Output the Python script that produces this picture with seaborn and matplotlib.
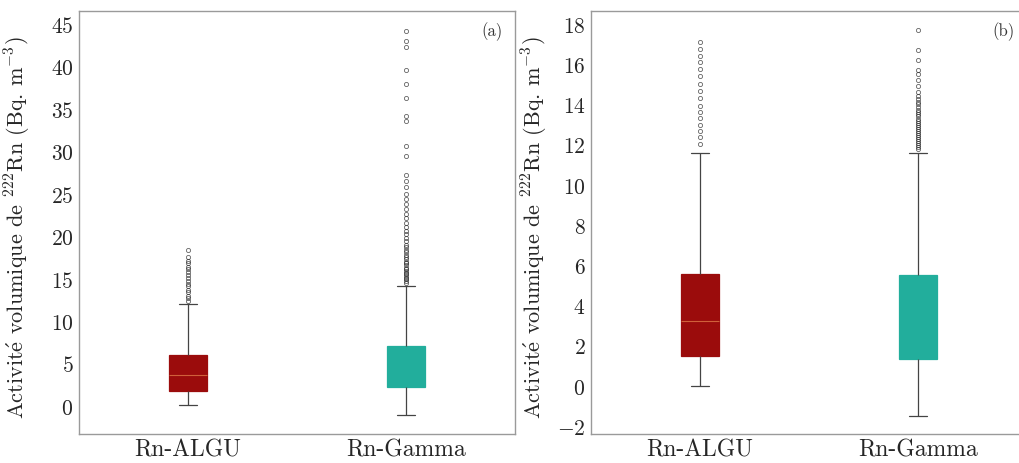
import numpy as np
import pandas as pd
import matplotlib
matplotlib.use("Agg")
import matplotlib.pyplot as plt
import matplotlib.ticker as mticker
import seaborn as sns

# ---------------- data ----------------
categories = ["Rn-ALGU", "Rn-Gamma"]
colors = ["#9b0c0c", "#22ae9c"]
median_colors = ["#d0603a", "#22ae9c"]

# panel (a): [lower whisker, Q1, median, Q3, upper whisker]
a_algu_stats = [0.1, 1.8, 3.6, 6.0, 12.0]
a_gamma_stats = [-1.1, 2.2, 4.0, 7.1, 14.1]
a_algu_out = [12.4, 12.7, 13.0, 13.4, 13.7, 14.1, 14.4, 14.7, 15.1, 15.4,
              15.8, 16.1, 16.4, 16.8, 17.1, 17.5, 18.4]
a_gamma_out = [14.5, 14.7, 14.9, 15.1, 15.3, 15.5, 15.7, 15.9, 16.1, 16.3,
               16.6, 16.8, 17.0, 17.3, 17.5, 17.8, 18.1, 18.4, 18.7, 19.0,
               19.4, 19.8, 20.2, 20.6, 21.1, 21.6, 22.1, 22.6, 23.2, 23.8,
               24.4, 25.0, 25.8, 26.5, 27.2, 29.4, 30.6, 33.6, 34.1, 36.2,
               37.9, 39.6, 42.3, 43.0, 44.1]

# panel (b)
b_algu_stats = [0.0, 1.5, 3.2, 5.57, 11.6]
b_gamma_stats = [-1.5, 1.35, 3.2, 5.5, 11.6]
b_algu_out = [12.04, 12.39, 12.69, 12.99, 13.33, 13.63, 13.93, 14.33, 14.68,
              15.03, 15.42, 15.77, 16.12, 16.42, 16.77, 17.11]
b_gamma_out = [11.8, 11.9, 12.0, 12.1, 12.2, 12.3, 12.4, 12.5, 12.6, 12.7,
               12.8, 12.9, 13.0, 13.1, 13.2, 13.3, 13.4, 13.5, 13.6, 13.7,
               13.85, 14.0, 14.1, 14.25, 14.4, 14.6, 14.9, 15.2, 15.5, 15.7,
               16.2, 16.7, 17.7]

ylims = [(-3.3, 46.5), (-2.4, 18.65)]
ytick_steps = [5, 2]
ylabel = r"Activit$\mathrm{\acute{e}}$ volumique de $^{222}$Rn (Bq. m$^{-3}$)"


def sample_from_stats(stats, outliers, k=100):
    lo, q1, med, q3, hi = stats
    return [lo] + [q1] * k + [med] * k + [q3] * k + [hi] + list(outliers)


def frame(s1, o1, s2, o2):
    v1 = sample_from_stats(s1, o1)
    v2 = sample_from_stats(s2, o2)
    return pd.DataFrame({
        "source": [categories[0]] * len(v1) + [categories[1]] * len(v2),
        "value": v1 + v2,
    })


df_a = frame(a_algu_stats, a_algu_out, a_gamma_stats, a_gamma_out)
df_b = frame(b_algu_stats, b_algu_out, b_gamma_stats, b_gamma_out)

# ---------------- style ----------------
sns.set_theme(style="white")
plt.rcParams["font.family"] = ["cmr10", "DejaVu Serif"]
plt.rcParams["mathtext.fontset"] = "cm"
plt.rcParams["axes.formatter.use_mathtext"] = True
plt.rcParams["axes.unicode_minus"] = True

fig = plt.figure(figsize=(10.2, 4.64), dpi=100)
H = 464.0
W = 1020.0
ax_a = fig.add_axes([79 / W, 1 - 435 / H, 436 / W, 423 / H])
ax_b = fig.add_axes([591 / W, 1 - 435 / H, 436 / W, 423 / H])

for ax, df, ylim, step, tag, lab_x in [(ax_a, df_a, ylims[0], ytick_steps[0], "(a)", -0.105),
                                       (ax_b, df_b, ylims[1], ytick_steps[1], "(b)", -0.094)]:
    sns.boxplot(data=df, x="source", y="value", hue="source",
                palette=colors, width=0.17, ax=ax, legend=False,
                linecolor="#444444", linewidth=0.9, saturation=1,
                fliersize=3.0,
                flierprops=dict(marker="o", markerfacecolor="none",
                                markeredgecolor="#222222",
                                markeredgewidth=0.6, alpha=0.7))
    for cont, col, mcol in zip(ax.containers, colors, median_colors):
        for b in cont.boxes:
            b.set_edgecolor(col)
        for m in cont.medians:
            m.set_color(mcol)
            m.set_linewidth(0.8)
    ax.set_xlim(-0.5, 1.5)
    ax.set_ylim(*ylim)
    ax.yaxis.set_major_locator(mticker.MultipleLocator(step))
    ax.set_xlabel("")
    ax.set_ylabel(ylabel, fontsize=16)
    ax.yaxis.set_label_coords(lab_x, 0.49)
    ax.tick_params(axis="y", labelsize=15.5, length=0, pad=4)
    ax.tick_params(axis="x", labelsize=17, length=0, pad=3)
    for sp in ax.spines.values():
        sp.set_color("#9a9a9a")
        sp.set_linewidth(1.0)
    ax.text(0.972, 0.975, tag, transform=ax.transAxes, ha="right", va="top",
            fontsize=12, color="#333333")

fig.savefig("out.png", dpi=100)
